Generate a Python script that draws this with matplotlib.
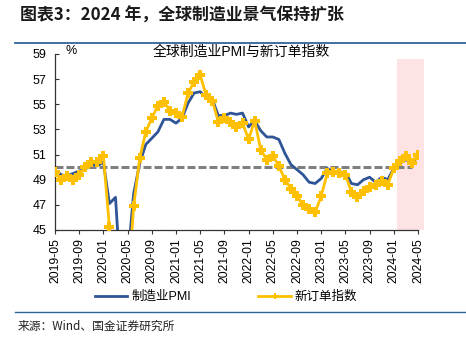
import numpy as np
import pandas as pd
import matplotlib
matplotlib.use('Agg')
from matplotlib import pyplot as plt
from matplotlib.lines import Line2D

# monthly data, 2019-05 .. 2024-05
months = pd.date_range('2019-05-01', '2024-05-01', freq='MS').strftime('%Y-%m').tolist()

pmi = [49.8, 49.4, 49.3, 49.5, 49.7, 49.8, 50.3, 50.1,
       50.4, 47.1, 47.6, 40.0, 42.5, 47.9, 50.3, 51.8, 52.3, 52.8, 53.8, 53.8,
       53.5, 53.9, 55.1, 55.9, 56.0, 55.5, 55.4, 54.1, 54.1, 54.3, 54.2, 54.3,
       53.2, 53.7, 52.9, 52.4, 52.4, 52.2, 51.1, 50.2, 49.8, 49.4, 48.8, 48.7,
       49.1, 49.9, 49.6, 49.6, 49.6, 48.7, 48.6, 49.0, 49.2, 48.8, 49.2, 49.0,
       49.9, 50.3, 50.6, 50.3, 50.9]

new_orders = [49.6, 49.0, 49.3, 49.0, 49.4, 50.0, 50.4, 50.4,
              50.9, 45.2, 42.5, 34.0, 40.0, 46.9, 50.7, 52.8, 53.9, 54.9, 55.2, 54.5,
              54.3, 54.0, 55.9, 56.8, 57.3, 55.7, 55.3, 53.6, 53.9, 53.6, 53.2, 53.5,
              52.2, 53.7, 51.4, 50.6, 50.9, 50.1, 49.0, 48.3, 47.7, 47.0, 46.7, 46.4,
              47.7, 49.5, 49.6, 49.5, 49.4, 48.0, 47.6, 48.1, 48.4, 48.6, 48.9, 48.6,
              49.9, 50.5, 50.9, 50.3, 51.0]

yticks = [45, 47, 49, 51, 53, 55, 57, 59]

blue = '#2F5597'
gold = '#FFC000'
cjk = ['Liberation Sans', 'Noto Sans CJK SC']

W, H = 466, 341
fig = plt.figure(figsize=(W / 100, H / 100), dpi=100)

x = np.arange(len(months))
ax = fig.add_axes([55 / W, 1 - 230 / H, 363 / W, 176 / H])

# shaded 2024 window
s0 = months.index('2024-01') + 0.5
ax.axvspan(s0, len(months), ymin=0, ymax=(58.6 - 45) / 14, color='#FDE3E3', lw=0, clip_on=False, zorder=0)

ax.plot([0, months.index('2024-04')], [50, 50], color='#7F7F7F', lw=2.2,
        linestyle=(0, (2.6, 1.0)), zorder=1)
ax.plot(x, pmi, color=blue, lw=2.0, zorder=2)
ax.plot(x, new_orders, color=gold, lw=2.0, marker='P', markersize=6.5,
        markeredgewidth=0, zorder=3)

ax.set_xlim(0, len(months) - 1)
ax.set_ylim(45, 59)
ax.set_yticks(yticks)
ax.set_yticklabels([str(v) for v in yticks], fontfamily='Liberation Sans', fontsize=9)
ax.set_xticks(x[::4])
ax.set_xticklabels(months[::4], rotation=90, fontfamily='Liberation Sans', fontsize=8.8)
ax.tick_params(axis='y', direction='in', length=3, pad=6, width=0.8, color='#333333')
ax.tick_params(axis='x', direction='out', length=3, pad=3, width=0.8, color='#333333')
for side in ['top', 'right']:
    ax.spines[side].set_visible(False)
for side in ['left', 'bottom']:
    ax.spines[side].set_linewidth(0.9)
    ax.spines[side].set_color('#333333')

fig.text(241 / W, 1 - 52 / H, '全球制造业PMI与新订单指数', ha='center', va='center',
         fontsize=10, family=cjk)
fig.text(66 / W, 1 - 51 / H, '%', ha='left', va='center', fontsize=9, family=cjk)

# legend
handles = [Line2D([], [], color=blue, lw=2.0),
           Line2D([], [], color=gold, lw=2.0, marker='P', markersize=4.5, markeredgewidth=0)]
fig.legend(handles, ['制造业PMI', '新订单指数'], loc='center', ncol=2,
           bbox_to_anchor=(226 / W, 1 - 297 / H), frameon=False, handlelength=2.6,
           handletextpad=0.3, columnspacing=5.4, prop={'family': cjk, 'size': 9})

# header / footer
fig.text(20 / W, 1 - 16 / H, '图表3：2024 年，全球制造业景气保持扩张', ha='left', va='center',
         fontsize=12.2, fontweight='bold', family=['Noto Sans CJK SC'], color='#1a1a1a')
fig.add_artist(Line2D([15 / W, 1], [1 - 43 / H, 1 - 43 / H], color='#2E6597', lw=1.3))
fig.add_artist(Line2D([15 / W, 1], [1 - 312 / H, 1 - 312 / H], color='#2E6597', lw=1.0))
fig.text(18 / W, 1 - 326 / H, '来源：Wind、国金证券研究所', ha='left', va='center',
         fontsize=8.5, family=['Noto Sans CJK SC'], color='#222222')

fig.savefig('out.png', dpi=100)
